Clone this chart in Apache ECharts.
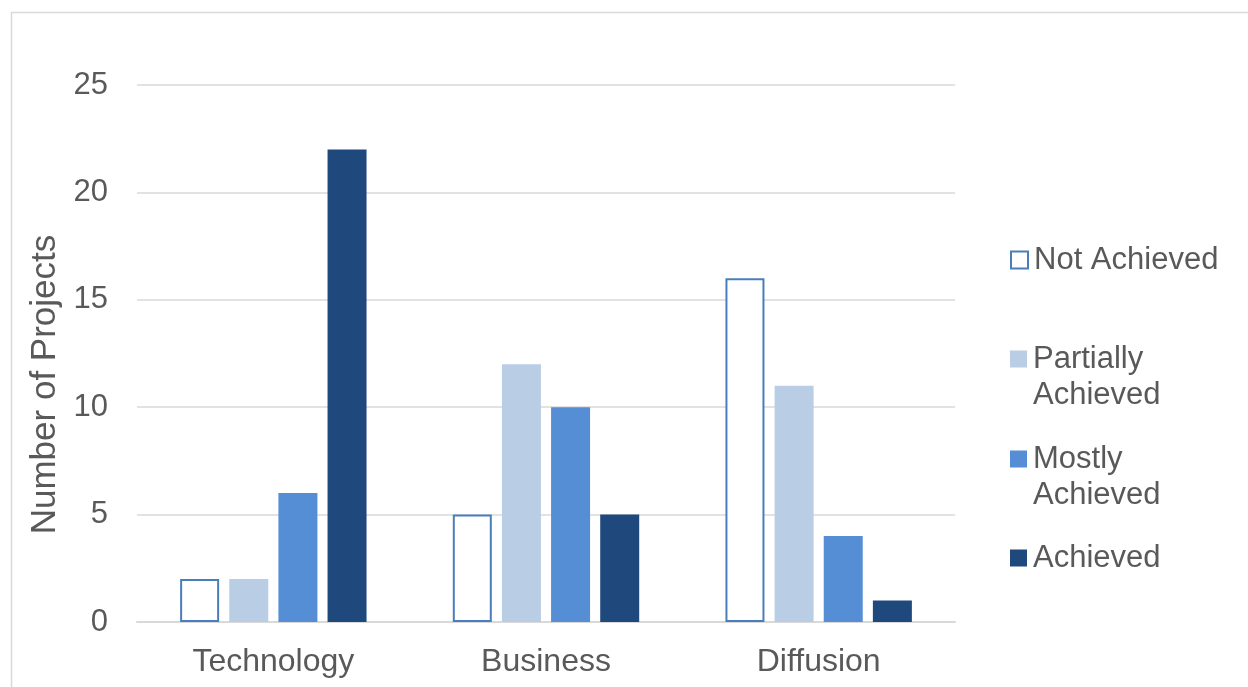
<!DOCTYPE html>
<html>
<head>
<meta charset="utf-8">
<script src="https://cdn.jsdelivr.net/npm/echarts@6/dist/echarts.min.js"></script>
<style>html,body{margin:0;padding:0;background:#fff;}#main{width:1248px;height:687px;}</style>
</head>
<body>
<div id="main"></div>
<script>
const categories = ['Technology', 'Business', 'Diffusion'];
const seriesNames = ['Not Achieved', 'Partially Achieved', 'Mostly Achieved', 'Achieved'];
const notAchieved = [2, 5, 16];
const partiallyAchieved = [2, 12, 11];
const mostlyAchieved = [6, 10, 4];
const achieved = [22, 5, 1];
const yTicks = [0, 5, 10, 15, 20, 25];

const values = [notAchieved, partiallyAchieved, mostlyAchieved, achieved];
const fills = ['#FFFFFF', '#B9CDE5', '#558ED5', '#1F497D'];
const borders = ['#4A7EBB', '#B9CDE5', '#558ED5', '#1F497D'];
const legendLabels = ['Not Achieved', '\nPartially\nAchieved', '\nMostly\nAchieved', 'Achieved'];
const legendTops = [237, 300, 400, 535];
const font = 'Liberation Sans, Arial, sans-serif';
const textColor = '#595959';

const chart = echarts.init(document.getElementById('main'));
const legends = seriesNames.map((n, i) => ({
  data: [n],
  left: 1005,
  top: legendTops[i],
  orient: 'vertical',
  itemWidth: 17,
  itemHeight: 17,
  itemGap: 0,
  icon: 'rect',
  selectedMode: false,
  formatter: () => legendLabels[i],
  textStyle: { fontFamily: font, fontSize: 31, color: textColor, lineHeight: 36, padding: [0, 0, 0, 1] }
}));

chart.setOption({
  animation: false,
  backgroundColor: '#fff',
  textStyle: { fontFamily: font },
  graphic: [{
    type: 'rect',
    shape: { x: 11.5, y: 12.5, width: 1400, height: 900 },
    style: { fill: 'none', stroke: '#D9D9D9', lineWidth: 1.5 },
    silent: true
  }],
  grid: { left: 137, right: 293, top: 85, bottom: 65 },
  legend: legends,
  xAxis: {
    type: 'category',
    data: categories,
    axisTick: { show: false },
    axisLine: { lineStyle: { color: '#D9D9D9', width: 2 } },
    axisLabel: { fontSize: 32, color: textColor, fontFamily: font, margin: 24 }
  },
  yAxis: {
    type: 'value',
    min: 0, max: 25, interval: 5,
    name: 'Number of Projects',
    nameLocation: 'middle',
    nameGap: 73,
    nameTextStyle: { fontSize: 35, color: textColor, fontFamily: font, padding: [0, 62, 0, 0] },
    axisLine: { show: false },
    axisTick: { show: false },
    splitLine: { lineStyle: { color: '#D9D9D9', width: 1.5 } },
    axisLabel: { fontSize: 31, color: textColor, fontFamily: font, margin: 29,
      formatter: v => yTicks.includes(v) ? String(v) : '' }
  },
  series: seriesNames.map((n, i) => ({
    name: n,
    type: 'bar',
    data: values[i],
    barWidth: 39,
    barGap: '26%',
    itemStyle: { color: fills[i], borderColor: borders[i], borderWidth: i === 0 ? 2 : 0 }
  }))
});
</script>
</body>
</html>
